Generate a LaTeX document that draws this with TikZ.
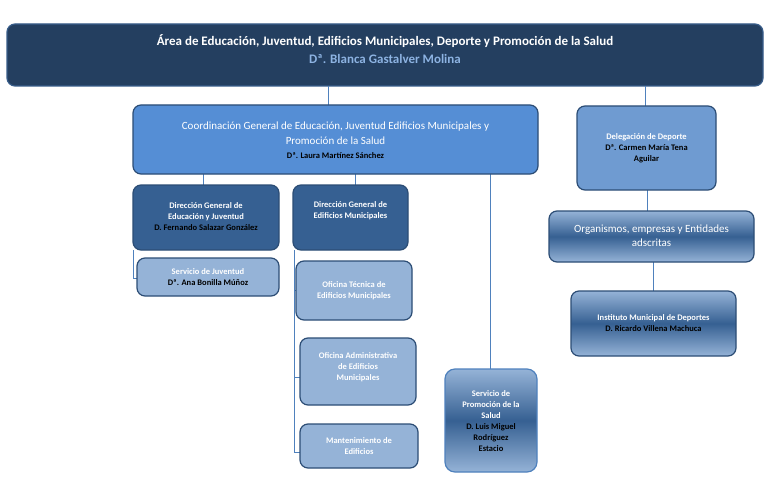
\documentclass[tikz,border=0pt]{standalone}
\usepackage{fontspec}
\setmainfont{Carlito}
\begin{document}
\begin{tikzpicture}[x=1pt,y=-1pt,
 box/.style={draw=#1,line width=1.2pt,rounded corners=8pt,align=center,inner sep=2pt},
 ln/.style={draw=lnc,line width=0.8pt},
 every node/.style={font=\bfseries\fontsize{8.5}{11}\selectfont}]
\definecolor{navy}{HTML}{243F60}
\definecolor{navyb}{HTML}{385D8A}
\definecolor{midb}{HTML}{558ED5}
\definecolor{delb}{HTML}{6F9BD1}
\definecolor{darkb}{HTML}{366092}
\definecolor{lightb}{HTML}{95B3D7}
\definecolor{edge}{HTML}{2C4D75}
\definecolor{lnc}{HTML}{4F81BD}
\definecolor{namec}{HTML}{8DB3E2}
\useasboundingbox (0,0) rectangle (768,492);
\fill[white] (0,0) rectangle (768,492);
\newcommand{\bx}[6]{\node[box=edge,fill=#2,minimum width=#5-#3,minimum height=#6-#4] (#1) at ({(#3+#5)/2},{(#4+#6)/2}) {};}
% top
\node[box=navyb,fill=navy,minimum width=756,minimum height=62] (top) at (385,55) {};
\node[text=white,font=\bfseries\fontsize{13}{16}\selectfont] (t1) at (385,41) {Área de Educación, Juventud, Edificios Municipales, Deporte y Promoción de la Salud};
\node[text=namec,font=\bfseries\fontsize{13}{16}\selectfont] (t2) at (385,59) {Dª. Blanca Gastalver Molina};
% connectors
\draw[ln] (328,86) -- (328,105);
\draw[ln] (645,86) -- (645,106);
\draw[ln] (647,190) -- (647,211);
\draw[ln] (653,262) -- (653,291);
\draw[ln] (203,174) -- (203,185);
\draw[ln] (355,174) -- (355,185);
\draw[ln] (490,174) -- (490,369);
\draw[ln] (133,250) -- (133,278) -- (137,278);
\draw[ln] (294,250) -- (294,452) -- (300,452);
\draw[ln] (294,290) -- (296,290);
\draw[ln] (294,377) -- (300,377);
% boxes
\bx{coord}{midb}{133}{105}{538}{174}
\node[text=white,font=\fontsize{11}{15}\selectfont,align=center] (c1) at (335.5,133) {Coordinación General de Educación, Juventud Edificios Municipales y\\Promoción de la Salud};
\node (c2) at (335.5,156) {Dª. Laura Martínez Sánchez};
\bx{del}{delb}{577}{106}{716}{190}
\node[align=center] (dt) at (646.5,148) {\textcolor{white}{Delegación de Deporte}\\Dª. Carmen María Tena\\Aguilar};
\shade[top color=lightb,bottom color=lightb,middle color=darkb,draw=edge,line width=1.2pt,rounded corners=8pt] (549,211) rectangle (754,262);
\node[text=white,font=\fontsize{11}{14}\selectfont,align=center] (org) at (651.5,236) {Organismos, empresas y Entidades\\adscritas};
\shade[top color=lightb,bottom color=lightb,middle color=darkb,draw=edge,line width=1.2pt,rounded corners=8pt] (571,291) rectangle (736,356);
\node[align=center] (ins) at (653.5,323) {\textcolor{white}{Instituto Municipal de Deportes}\\D. Ricardo Villena Machuca};
\bx{de}{darkb}{133}{185}{279}{250}
\node[align=center] (det) at (206,217) {\textcolor{white}{Dirección General de}\\\textcolor{white}{Educación y Juventud}\\D. Fernando Salazar González};
\bx{sj}{lightb}{137}{258}{279}{296}
\node[align=center] (sjt) at (208,277) {\textcolor{white}{Servicio de Juventud}\\Dª. Ana Bonilla Múñoz};
\bx{dm}{darkb}{293}{185}{408}{250}
\node[text=white,align=center] (dmt) at (350.5,211) {Dirección General de\\Edificios Municipales};
\bx{ot}{lightb}{296}{261}{412}{320}
\node[text=white,align=center] (ott) at (354,291) {Oficina Técnica de\\Edificios Municipales};
\bx{oa}{lightb}{300}{338}{416}{405}
\node[text=white,align=center] (oat) at (358,367) {Oficina Administrativa\\de Edificios\\Municipales};
\bx{mt}{lightb}{300}{424}{418}{468}
\node[text=white,align=center] (mtt) at (359,446) {Mantenimiento de\\Edificios};
\shade[top color=lightb,bottom color=lightb,middle color=darkb,draw=lnc,line width=1.2pt,rounded corners=10pt] (445,369) rectangle (537,472);
\node[align=center] (ps) at (491,421) {\textcolor{white}{Servicio de}\\\textcolor{white}{Promoción de la}\\\textcolor{white}{Salud}\\D. Luis Miguel\\Rodríguez\\Estacio};
\end{tikzpicture}
\end{document}
